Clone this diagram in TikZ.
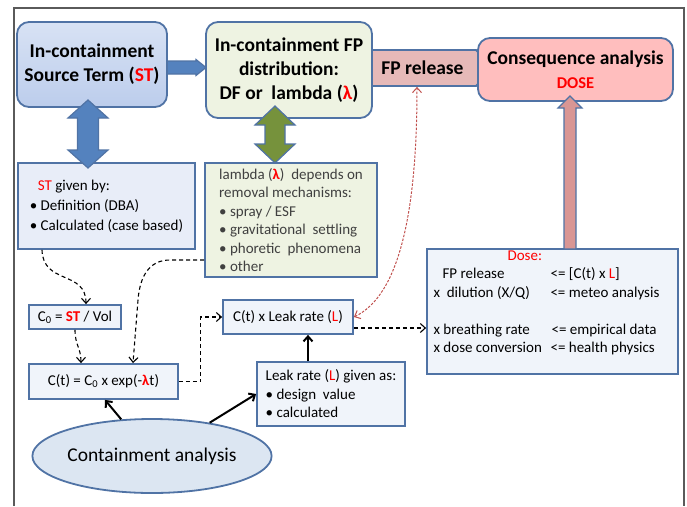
\documentclass[tikz,border=0pt]{standalone}
\usepackage{fontspec}
\setmainfont{Carlito}
\usetikzlibrary{shapes.geometric,shapes.symbols,arrows.meta}

\definecolor{boxline}{RGB}{80,115,165}
\definecolor{stblueA}{RGB}{216,226,244}
\definecolor{stblueB}{RGB}{188,205,236}
\definecolor{fpgreen}{RGB}{238,243,226}
\definecolor{relpink}{RGB}{230,185,184}
\definecolor{conspink}{RGB}{255,190,190}
\definecolor{uparrow}{RGB}{217,150,148}
\definecolor{arrblue}{RGB}{84,130,190}
\definecolor{arrgreen}{RGB}{118,146,60}
\definecolor{stgiven}{RGB}{232,237,248}
\definecolor{paleblue}{RGB}{240,244,250}
\definecolor{ellblue}{RGB}{220,230,242}
\definecolor{redline}{RGB}{192,80,77}
\definecolor{framegray}{RGB}{90,90,90}
\definecolor{darktext}{RGB}{64,64,64}

\newcommand{\redtxt}[1]{\textcolor{red}{#1}}

\begin{document}
\begin{tikzpicture}[x=1pt, y=-1pt,
    >={Straight Barb[length=5pt,width=9pt]},
    bigbox/.style={draw=boxline, line width=1.8pt, rounded corners=12pt, align=center,
        inner sep=0pt, font=\fontsize{19.5}{24}\selectfont\bfseries},
    smallbox/.style={draw=boxline, line width=1.8pt, fill=paleblue, inner sep=0pt,
        font=\fontsize{15}{18.5}\selectfont},
    blockarrow/.style={draw=boxline, line width=1.2pt},
    dashcon/.style={->, line width=1.1pt, dash pattern=on 4pt off 3pt},
    solidcon/.style={->, line width=2pt},
    reddot/.style={<->, draw=redline, line width=1pt, dash pattern=on 2.5pt off 1.5pt}
]
    \useasboundingbox (0,0) rectangle (687,506);
    \draw[framegray, line width=1.3pt] (14,506) -- (14,8) -- (684,8) -- (684,506);

    % --- Top row: source term, distribution, release, consequences ---
    \node[signal, signal to=east, draw=boxline, line width=1.8pt, fill=relpink,
        minimum width=125pt, minimum height=36pt, inner sep=0pt,
        font=\fontsize{19.5}{22}\selectfont\bfseries] (rel) at (422.5,68) {FP release};

    \filldraw[blockarrow, fill=arrblue] (160,61) -- (196,61) -- (196,59.5) -- (206,67.5)
        -- (196,75.5) -- (196,74) -- (160,74) -- cycle;

    \node[bigbox, top color=stblueA, bottom color=stblueB, minimum width=150pt, minimum height=85pt]
        (st) at (92,64.5) {In-containment\\Source Term (\redtxt{ST})};
    \node[bigbox, fill=fpgreen, minimum width=166pt, minimum height=96pt]
        (fp) at (289,70) {In-containment FP\\distribution:\\DF or\ \ lambda (\redtxt{λ})};
    \node[bigbox, fill=conspink, minimum width=195pt, minimum height=63pt]
        (cons) at (575.5,69.5) {Consequence analysis\\{\fontsize{16.5}{18}\selectfont\redtxt{DOSE}}};

    % --- Middle row: what the terms depend on ---
    \node[smallbox, fill=stgiven, minimum width=177pt, minimum height=86pt, align=left,
        font=\fontsize{15}{20}\selectfont] (stg) at (106.5,206)
        {\hspace{8pt}\redtxt{ST} given by:\\\textbullet\ Definition (DBA)\\\textbullet\ Calculated (case based)};
    \node[smallbox, fill=fpgreen, text=darktext, minimum width=172pt, minimum height=114pt, align=left]
        (lam) at (291,220) {lambda (\redtxt{\textbf{λ}})\ \ depends on\\removal mechanisms:\\\textbullet\ spray / ESF\\
        \textbullet\ gravitational\ \ settling\\\textbullet\ phoretic\ \ phenomena\\\textbullet\ other};

    % double arrows
    \filldraw[blockarrow, fill=arrblue] (88,100) -- (108,118) -- (98.5,118) -- (98.5,150) -- (108,150)
        -- (88,168) -- (68,150) -- (77.5,150) -- (77.5,118) -- (68,118) -- cycle;
    \filldraw[blockarrow, fill=arrgreen] (275,106) -- (295,125) -- (285,125) -- (285,144) -- (295,144)
        -- (275,163) -- (255,144) -- (265,144) -- (265,125) -- (255,125) -- cycle;

    % --- Lower part: concentration and leak ---
    \node[smallbox, minimum width=92pt, minimum height=24pt]
        (c0) at (75,317) {C\textsubscript{0} = \redtxt{\textbf{ST}} / Vol};
    \node[smallbox, minimum width=149pt, minimum height=35pt]
        (ct) at (103.5,381.5) {C(t) = C\textsubscript{0} x exp(-\redtxt{\textbf{λ}}t)\hspace{10pt}};
    \node[smallbox, minimum width=130pt, minimum height=34pt]
        (cxl) at (288,317) {C(t) x Leak rate (\redtxt{L})};
    \node[smallbox, minimum width=148pt, minimum height=64pt, align=left]
        (leak) at (331,394) {Leak rate (\redtxt{L}) given as:\\\textbullet\ design\ \ value\\\textbullet\ calculated};
    \node[ellipse, draw=boxline, line width=1.8pt, fill=ellblue, minimum width=188pt, minimum height=74pt,
        inner sep=0pt, font=\fontsize{19.5}{22}\selectfont] (ell) at (152,456) {Containment analysis};

    % Dose box
    \node[smallbox, minimum width=251pt, minimum height=125pt] (dose) at (552.5,311.5) {};
    \node[inner sep=0pt, font=\fontsize{15}{18.5}\selectfont] (dosetxt) at (546.5,303) {%
        \begin{tabular}{@{}p{117pt}@{}l@{}}
        \multicolumn{2}{@{}l@{}}{\hspace{74pt}\redtxt{Dose:}}\\
        \hspace{9pt}FP release & <= [C(t) x \redtxt{L}]\\
        x\ \ dilution (X/Q) & <= meteo analysis\\
        & \\
        x breathing rate & \hspace{1pt}<= empirical data\\
        x dose conversion & <= health physics
        \end{tabular}};

    \filldraw[blockarrow, fill=uparrow] (564,249) -- (564,108) -- (558,108) -- (570,96)
        -- (582,108) -- (576,108) -- (576,249) -- cycle;

    % connectors
    \draw[dashcon] ([xshift=-64.5]stg.south) .. controls (43,285) and (86,270) .. ([xshift=11]c0.north);
    \draw[dashcon] ([yshift=-40]lam.west) -- (170,260) .. controls (150,260) and (140,275) .. (138,300)
        -- ([xshift=29.5]ct.north);
    \draw[dashcon] (c0.south) .. controls (75,345) and (81,348) .. ([xshift=-22.5]ct.north);
    \draw[dashcon] (ct.east) -- ++(22,0) |- (cxl.west);
    \draw[dashcon] ([yshift=-11]cxl.east) -- ([yshift=-11]cxl.east -| dose.west);
    \draw[solidcon] ([xshift=-23]leak.north) -- ([xshift=-23]leak.north |- cxl.south);
    \draw[solidcon] (ell.130) -- ([xshift=1.5]ct.south);
    \draw[solidcon] (ell.30) -- (leak.west);
    \draw[reddot] (cxl.east) .. controls (400,295) and (417,210) .. ([xshift=-5.5]rel.south);

\end{tikzpicture}
\end{document}
